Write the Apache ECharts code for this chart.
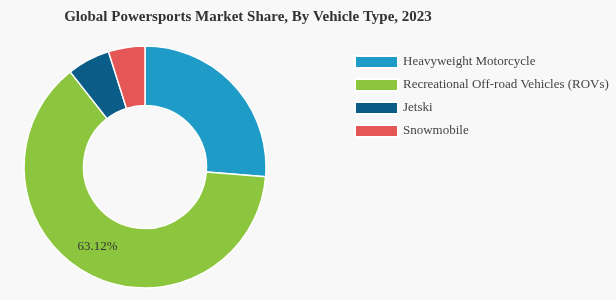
<!DOCTYPE html>
<html><head><meta charset="utf-8">
<script src="https://cdn.jsdelivr.net/npm/echarts@6/dist/echarts.min.js"></script>
<style>html,body{margin:0;padding:0;background:#f8f8f8;}#c{width:616px;height:300px;}</style>
</head><body><div id="c"></div>
<script>
const categories = ['Heavyweight Motorcycle', 'Recreational Off-road Vehicles (ROVs)', 'Jetski', 'Snowmobile'];
const values = [26.28, 63.12, 5.72, 4.88];
const colors = ['#1e9bc6', '#8cc63e', '#0b5d88', '#e55656'];
const labeled = ['Recreational Off-road Vehicles (ROVs)'];
const chart = echarts.init(document.getElementById('c'));
chart.setOption({
  backgroundColor: '#f8f8f8',
  animation: false,
  title: { text: 'Global Powersports Market Share, By Vehicle Type, 2023', left: 243, textAlign: 'center', top: 5,
    textStyle: { fontFamily: 'Liberation Serif', fontSize: 15, fontWeight: 'bold', color: '#333' } },
  legend: { orient: 'vertical', left: 349, top: 50, itemWidth: 43, itemHeight: 12, itemGap: 9, icon: 'rect',
    textStyle: { fontFamily: 'Liberation Serif', fontSize: 13, color: '#444' } },
  series: [{
    type: 'pie', center: [145, 167], radius: [61.5, 121], startAngle: 90, clockwise: true,
    itemStyle: { borderColor: '#fff', borderWidth: 1.5 },
    label: { show: true, position: 'inside', fontFamily: 'Liberation Serif', fontSize: 13, color: '#333',
      offset: [-3, -3],
      formatter: p => labeled.includes(p.name) ? p.value.toFixed(2) + '%' : '' },
    labelLine: { show: false },
    emphasis: { disabled: true },
    data: categories.map((n, i) => ({ name: n, value: values[i], itemStyle: { color: colors[i] } }))
  }]
});
</script></body></html>
